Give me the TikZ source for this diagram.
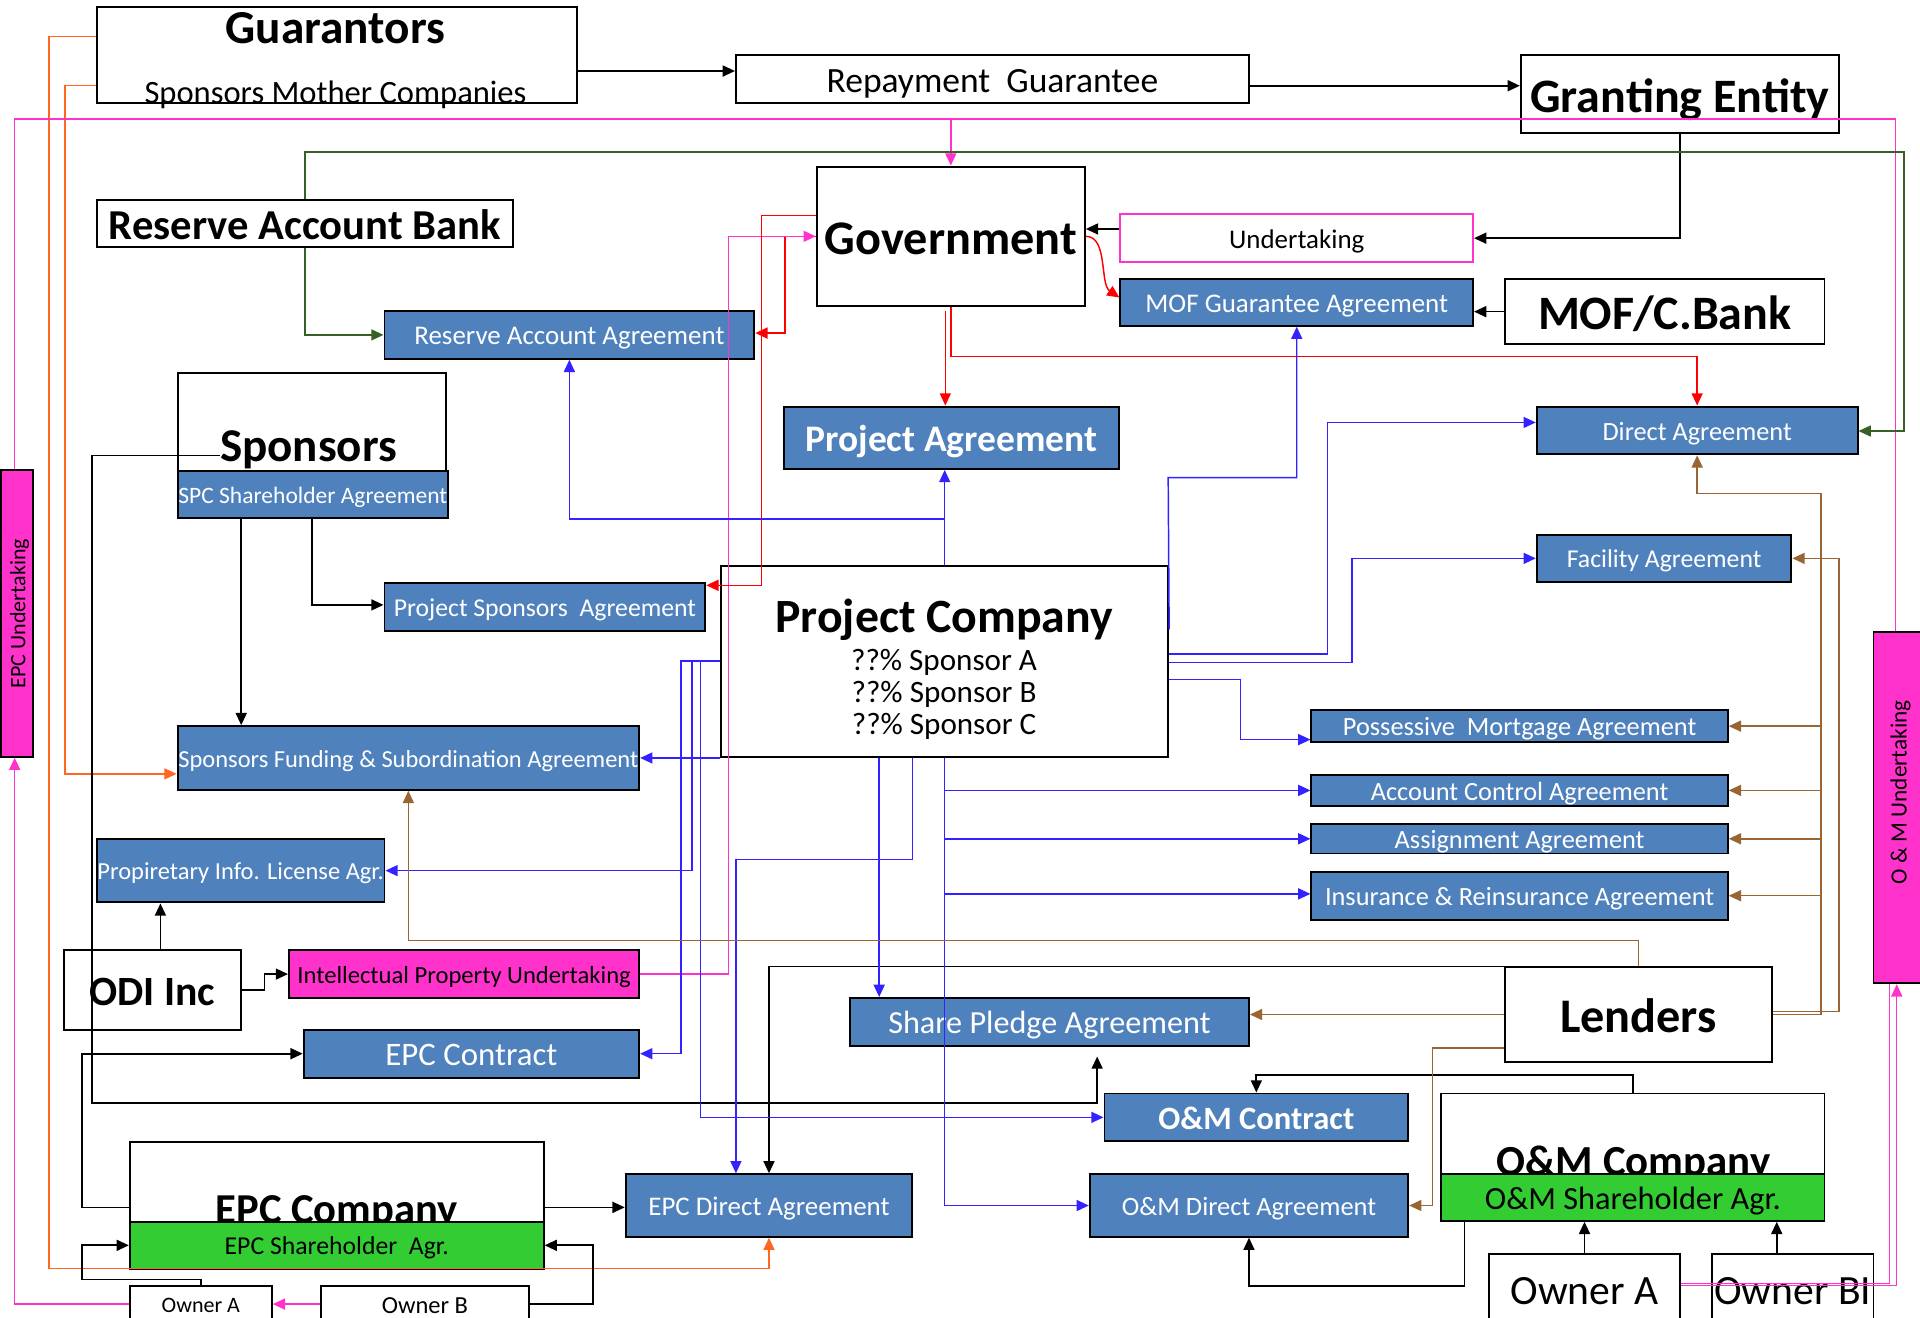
\documentclass[tikz,border=0pt]{standalone}
\usepackage{fontspec}
\setmainfont{Carlito}
\usetikzlibrary{arrows.meta}
\definecolor{agblue}{RGB}{79,129,189}
\definecolor{lblue}{RGB}{51,34,255}
\definecolor{lpink}{RGB}{255,51,204}
\definecolor{lorange}{RGB}{255,102,34}
\definecolor{lgreen}{RGB}{55,96,39}
\definecolor{lbrown}{RGB}{153,102,51}
\definecolor{fgreen}{RGB}{51,204,51}
\newcommand{\fsz}[2]{\fontsize{#1}{#2}\selectfont}
\newcommand{\tx}[1]{\smash{#1}\rule{0pt}{0.74em}}
\begin{document}
\begin{tikzpicture}[x=0.5pt,y=-0.5pt,
  ent/.style={draw=black,line width=0.8pt,fill=white,inner sep=0pt,align=center},
  agr/.style={draw=black,line width=0.8pt,fill=agblue,text=white,inner sep=0pt,align=center},
  grn/.style={draw=black,line width=0.8pt,fill=fgreen,text=black,inner sep=0pt,align=center},
  mag/.style={draw=black,line width=0.8pt,fill=lpink,text=black,inner sep=0pt,align=center},
  txt/.style={inner sep=0pt,align=center},
  tip/.style={-{Triangle[length=5pt,width=4.5pt]}},
  bl/.style={draw=black,line width=0.7pt},
  bu/.style={draw=lblue,line width=0.6pt},
  pk/.style={draw=lpink,line width=0.6pt},
  rd/.style={draw=red,line width=0.6pt},
  og/.style={draw=lorange,line width=0.6pt},
  gr/.style={draw=lgreen,line width=0.6pt},
  br/.style={draw=lbrown,line width=0.6pt},
]
\useasboundingbox (0,0) rectangle (1568,1076);
\fill[white] (0,0) rectangle (1568,1076);

% ---------------- entity boxes ----------------
\node[ent,minimum width=196pt,minimum height=39pt] (guar) at (275,45) {};
\node[txt,font=\bfseries\fsz{19.3pt}{22pt}] (guart) at (274,21) {\tx{Guarantors}};
\node[txt,font=\fsz{13.3pt}{16pt}] (guars) at (274,75) {\tx{Sponsors Mother Companies}};

\node[ent,minimum width=209.5pt,minimum height=19.5pt,font=\fsz{14.5pt}{17pt}] (rep) at (810.5,64.5) {\tx{Repayment~ Guarantee}};
\node[ent,minimum width=130pt,minimum height=32pt,font=\bfseries\fsz{19.6pt}{22pt}] (grant) at (1372,77) {\tx{Granting Entity}};
\node[ent,minimum width=170pt,minimum height=19.5pt,font=\bfseries\fsz{17.4pt}{20pt}] (rab) at (249,182.5) {\tx{Reserve Account Bank}};
\node[ent,minimum width=109.5pt,minimum height=57pt,font=\bfseries\fsz{19.7pt}{22pt}] (gov) at (776.5,193) {\tx{Government}};
\node[ent,draw=lpink,minimum width=144pt,minimum height=19.5pt,font=\fsz{11pt}{13pt}] (und) at (1059,194.5) {\tx{Undertaking}};
\node[agr,minimum width=144pt,minimum height=19pt,font=\fsz{11pt}{13pt}] (mofg) at (1059,247) {\tx{MOF Guarantee Agreement}};
\node[ent,minimum width=130.5pt,minimum height=26.5pt,font=\bfseries\fsz{19.6pt}{22pt}] (mofb) at (1359.5,254.5) {\tx{MOF/C.Bank}};

\node[agr,minimum width=151pt,minimum height=19.5pt,font=\fsz{11pt}{13pt}] (raa) at (465,273.5) {\tx{Reserve Account Agreement}};
\node[agr,minimum width=137pt,minimum height=25.5pt,font=\bfseries\fsz{15.3pt}{17pt}] (pa) at (777,357.5) {\tx{Project Agreement}};
\node[agr,minimum width=131pt,minimum height=19.5pt,font=\fsz{10.75pt}{13pt}] (da) at (1386,351.5) {\tx{Direct Agreement}};

\node[ent,minimum width=109.5pt,minimum height=40pt] (spons) at (254.5,345) {};
\node[txt,font=\bfseries\fsz{19.2pt}{22pt}] (sponst) at (252,363) {\tx{Sponsors}};
\node[agr,minimum width=110.5pt,minimum height=19pt,font=\fsz{9.6pt}{11pt}] (spc) at (255.5,404) {\tx{SPC Shareholder Agreement}};
\node[agr,minimum width=131pt,minimum height=19.5pt,font=\fsz{10.5pt}{12pt}] (psa) at (445,495.5) {\tx{Project Sponsors~ Agreement}};

\node[ent,minimum width=182.5pt,minimum height=78pt] (pc) at (771.5,540) {};
\node[txt,font=\bfseries\fsz{19.5pt}{22pt}] (pct) at (771,502) {\tx{Project Company}};
\node[txt,font=\fsz{12.7pt}{13pt}] (pcs) at (771,567) {??\% Sponsor A\\??\% Sponsor B\\??\% Sponsor C};

\node[agr,minimum width=104pt,minimum height=19pt,font=\fsz{10.5pt}{12pt}] (fa) at (1359,456) {\tx{Facility Agreement}};
\node[agr,minimum width=188.5pt,minimum height=26pt,font=\fsz{10pt}{12pt}] (sfa) at (333.5,619) {\tx{Sponsors Funding \& Subordination Agreement}};
\node[agr,minimum width=170pt,minimum height=13pt,font=\fsz{10.75pt}{12pt}] (pma) at (1241,593) {\tx{Possessive~ Mortgage Agreement}};
\node[agr,minimum width=170pt,minimum height=12.5pt,font=\fsz{10.75pt}{12pt}] (aca) at (1241,645.5) {\tx{Account Control Agreement}};
\node[agr,minimum width=170pt,minimum height=12pt,font=\fsz{10.75pt}{12pt}] (asa) at (1241,685) {\tx{Assignment Agreement}};
\node[agr,minimum width=170pt,minimum height=19.5pt,font=\fsz{10.75pt}{12pt}] (ira) at (1241,731.5) {\tx{Insurance \& Reinsurance Agreement}};

\node[agr,minimum width=117.5pt,minimum height=26pt,font=\fsz{10pt}{11pt}] (pil) at (196.5,711) {\tx{Propiretary Info. License Agr.}};
\node[ent,minimum width=72.5pt,minimum height=32.5pt,font=\bfseries\fsz{17pt}{20pt}] (odi) at (124.5,808.5) {\tx{ODI Inc}};
\node[mag,minimum width=143pt,minimum height=19.5pt,font=\fsz{10.05pt}{11pt}] (ipu) at (379,795.5) {\tx{Intellectual Property Undertaking}};
\node[agr,minimum width=137pt,minimum height=19.5pt,font=\fsz{13.4pt}{15pt}] (epcc) at (385,860.5) {\tx{EPC Contract}};
\node[agr,minimum width=163pt,minimum height=19.5pt,font=\fsz{13.15pt}{15pt}] (spa) at (857,834.5) {\tx{Share Pledge Agreement}};
\node[ent,minimum width=109pt,minimum height=38.5pt,font=\bfseries\fsz{19.7pt}{22pt}] (lend) at (1338,828.5) {\tx{Lenders}};
\node[agr,minimum width=124pt,minimum height=19.5pt,font=\bfseries\fsz{13.3pt}{15pt}] (omc) at (1026,912.5) {\tx{O\&M Contract}};

\node[ent,minimum width=156.5pt,minimum height=33pt] (omco) at (1333.5,926) {};
\node[txt,font=\bfseries\fsz{17.5pt}{20pt}] (omcot) at (1334,947) {\tx{O\&M Company}};
\node[grn,minimum width=156.5pt,minimum height=19pt,font=\fsz{13.2pt}{15pt}] (omsh) at (1333.5,978) {\tx{O\&M Shareholder Agr.}};

\node[ent,minimum width=169pt,minimum height=32.5pt] (epco) at (275,965.5) {};
\node[txt,font=\bfseries\fsz{17.4pt}{20pt}] (epcot) at (275,986) {\tx{EPC Company}};
\node[grn,minimum width=169pt,minimum height=19pt,font=\fsz{10.5pt}{12pt}] (epcsh) at (275,1017) {\tx{EPC Shareholder~ Agr.}};

\node[agr,minimum width=117pt,minimum height=25.5pt,font=\fsz{11pt}{12pt}] (epcda) at (628,984.5) {\tx{EPC Direct Agreement}};
\node[agr,minimum width=130pt,minimum height=25.5pt,font=\fsz{10.8pt}{12pt}] (omda) at (1020,984.5) {\tx{O\&M Direct Agreement}};

\node[ent,minimum width=58pt,minimum height=15pt,font=\fsz{9pt}{11pt}] (owa1) at (164,1065) {\tx{Owner A}};
\node[ent,minimum width=85pt,minimum height=15pt,font=\fsz{10pt}{11pt}] (owb1) at (347,1065) {\tx{Owner B}};
\node[ent,minimum width=78pt,minimum height=29pt,font=\fsz{17pt}{20pt}] (owa2) at (1294,1053) {\tx{Owner A}};
\node[ent,minimum width=66pt,minimum height=29pt,font=\fsz{17pt}{20pt}] (owb2) at (1464,1053) {\tx{Owner BI}};

\node[mag,minimum width=13pt,minimum height=117pt] (epcu) at (14,501) {};
\node[txt,rotate=90,font=\fsz{9pt}{11pt}] (epcut) at (14,501) {\tx{EPC Undertaking}};
\node[mag,minimum width=20pt,minimum height=143.5pt] (omu) at (1550,659.5) {};
\node[txt,rotate=90,font=\fsz{9.5pt}{11pt}] (omut) at (1550,647) {\tx{O \& M Undertaking}};

% ---------------- orange ----------------
\draw[og,tip] (guar.west |- 0,30) -- (40,30) -- (40,1036) -| (epcda.south);
\draw[og,tip] (guar.west |- 0,70) -- (53,70) |- (sfa.west |- 0,632);

% ---------------- pink ----------------
\draw[pk] (epcu.north -| 12,0) |- (1548,97) -- (omu.north -| 1548,0);
\draw[pk,tip] (gov.north |- 0,97) -- (gov.north);
\draw[pk,tip] (owa1.west) -| (epcu.south -| 12,0);
\draw[pk,tip] (owb1.west) -- (owa1.east);
\draw[pk,tip] (owa2.east |- 0,1050) -| (omu.south -| 1549,0);
\draw[pk] (owa2.east |- 0,1048) -| (omu.south -| 1543,0);
\draw[rd,tip] (gov.west |- 0,193) -- (641,193) |- (raa.east |- 0,272);
\draw[pk,tip] (ipu.east) -- (595,795.5) |- (gov.west |- 0,193);

% ---------------- red ----------------
\draw[rd,tip] (gov.west |- 0,176) -- (622,176) |- (psa.east |- 0,478);
\draw[rd,tip] (772,254) -- (pa.north -| 772,0);
\draw[rd,tip] (gov.south) |- (da.north |- 0,291) -- (da.north);
\draw[rd,tip] (gov.east |- 0,193) .. controls (905,193) and (898,232) .. (mofg.west |- 0,243);

% ---------------- black ----------------
\draw[bl,tip] (guar.east |- 0,58) -- (rep.west |- 0,58);
\draw[bl,tip] (rep.east |- 0,70) -- (grant.west |- 0,70);
\draw[bl,tip] (und.west |- 0,187) -- (gov.east |- 0,187);
\draw[bl,tip] (grant.south) |- (und.east);
\draw[bl,tip] (mofb.west) -- (mofg.east |- mofb.west);
\draw[bl,tip] (sponst.west |- 0,372) -- (75,372) |- (896,901) -- ([yshift=-4pt]spa.south -| 896,0);
\draw[bl,tip] (spc.south -| 197,0) -- (sfa.north -| 197,0);
\draw[bl,tip] (spc.south -| 255,0) |- (psa.west |- 0,494);
\draw[bl,tip] (odi.north -| 131,0) -- (pil.south -| 131,0);
\draw[bl,tip] (odi.east) -- (216,808.5) |- (ipu.west);
\draw[bl,tip] (epco.west |- 0,986) -- (67,986) |- (epcc.west);
\draw[bl,tip] (epco.east |- 0,986) -- (epcda.west |- 0,986);
\draw[bl,tip] (owa1.north) -- (164,1045) -- (67,1045) |- (epcsh.west);
\draw[bl,tip] (owb1.east) -- (484,1065) |- (epcsh.east);
\draw[bl,tip] (lend.north west) -| (epcda.north);
\draw[bl,tip] (omco.north) -- (1333.5,878) -| (omc.north);
\draw[bl,tip] (omsh.south -| 1196,0) -- (1196,1050) -| (omda.south);
\draw[bl,tip] (owa2.north) -- (omsh.south -| owa2.north);
\draw[bl,tip] (owb2.north -| 1451,0) -- (omsh.south -| 1451,0);

% ---------------- green ----------------
\draw[gr,tip] (rab.north) |- (1555,124) |- (da.east |- 0,352);
\draw[gr,tip] (rab.south) |- (raa.west);

% ---------------- blue ----------------
\draw[bu,tip] (pc.north) -- (pc.north |- pa.south);
\draw[bu,tip] (pc.north |- 0,424) -| (raa.south);
\draw[bu,tip] (pc.east |- 0,514) -- (954,390) -| (mofg.south);
\draw[bu,tip] (pc.east |- 0,534) -- (1084,534) |- (da.west |- 0,345);
\draw[bu,tip] (pc.east |- 0,541) -- (1104,541) |- (fa.west);
\draw[bu,tip] (pc.east |- 0,555) -- (1013,555) |- (pma.west |- 0,604);
\draw[bu,tip] (pc.south) |- (omda.west);
\draw[bu,tip] (pc.south |- aca.west) -- (aca.west);
\draw[bu,tip] (pc.south |- asa.west) -- (asa.west);
\draw[bu,tip] (pc.south |- 0,730) -- (ira.west |- 0,730);
\draw[bu,tip] (pc.south -| 718,0) -- (spa.north -| 718,0);
\draw[bu,tip] (pc.south -| 745,0) -- (745,702) -| (epcda.north -| 601,0);
\draw[bu,tip] (pc.west |- 0,540) -- (556,540) |- (epcc.east);
\draw[bu,tip] (565,540) |- (pil.east);
\draw[bu,tip] (572,540) |- (omc.west);
\draw[bu,tip] (pc.west |- 0,619) -- (sfa.east |- 0,619);

% ---------------- brown ----------------
\draw[br,tip] (lend.east) -- (1487,828.5) |- (da.south |- 0,403) -- (da.south);
\draw[br,tip] (pma.east -| 1487,0) -- (pma.east);
\draw[br,tip] (aca.east -| 1487,0) -- (aca.east);
\draw[br,tip] (asa.east -| 1487,0) -- (asa.east);
\draw[br,tip] (ira.east -| 1487,0) -- (ira.east);
\draw[br,tip] (lend.east |- 0,826) -- (1502,826) |- (fa.east);
\draw[br,tip] (lend.west) -- (spa.east |- lend.west);
\draw[br,tip] (lend.west |- 0,856) -- (1170,856) |- (omda.east);
\draw[br,tip] (lend.north) -- (1338,768) -| (sfa.south);
\end{tikzpicture}
\end{document}
